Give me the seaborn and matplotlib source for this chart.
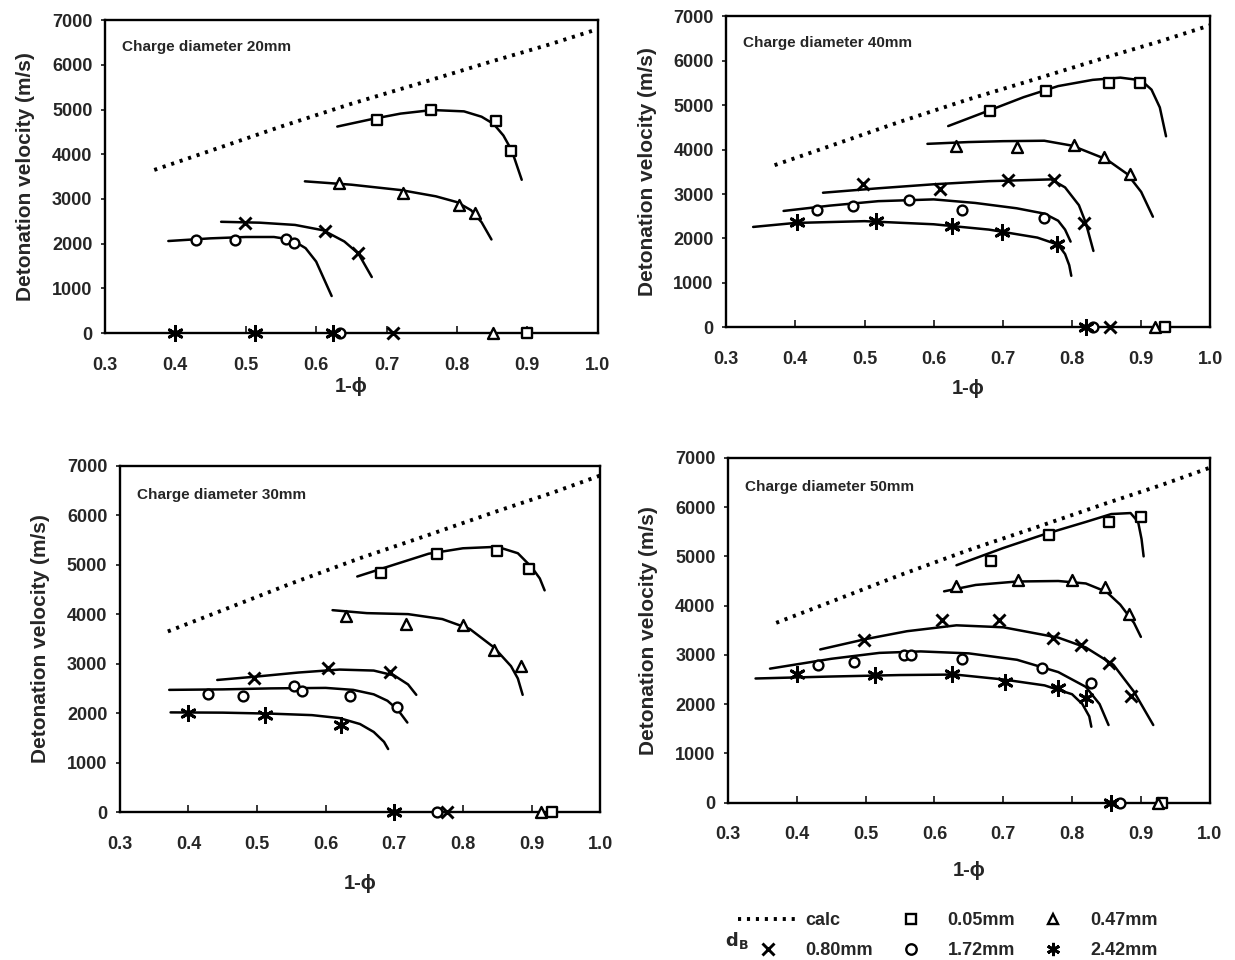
import matplotlib
matplotlib.use("Agg")
import matplotlib.pyplot as plt
import seaborn as sns
from matplotlib.lines import Line2D

sns.set_style("ticks")
plt.rcParams['font.family'] = ['Liberation Sans', 'DejaVu Sans']
plt.rcParams['font.weight'] = 'bold'

# ---------------- data ----------------
SERIES = ["0.05mm", "0.47mm", "0.80mm", "1.72mm", "2.42mm"]
X_TICKS = [0.3, 0.4, 0.5, 0.6, 0.7, 0.8, 0.9, 1.0]
Y_TICKS = [0, 1000, 2000, 3000, 4000, 5000, 6000, 7000]

CALC_X = [0.37, 0.45, 0.55, 0.65, 0.75, 0.85, 0.93, 1.0]
CALC_Y = [3650, 4080, 4620, 5130, 5600, 6080, 6450, 6800]

# Charge diameter 20 mm
pts20 = {
    "0.05mm": ([0.686, 0.763, 0.856, 0.877, 0.90], [4770, 4990, 4750, 4065, 0]),
    "0.47mm": ([0.632, 0.723, 0.803, 0.826, 0.851], [3360, 3135, 2875, 2690, 0]),
    "0.80mm": ([0.499, 0.612, 0.659, 0.709], [2465, 2280, 1800, 0]),
    "1.72mm": ([0.43, 0.485, 0.557, 0.568, 0.634], [2075, 2075, 2095, 2020, 0]),
    "2.42mm": ([0.40, 0.513, 0.624], [0, 0, 0]),
}
fit20 = {
    "0.05mm": ([0.63, 0.68, 0.72, 0.765, 0.81, 0.835, 0.852, 0.866, 0.878, 0.892],
               [4620, 4790, 4910, 4990, 4960, 4840, 4680, 4420, 4080, 3430]),
    "0.47mm": ([0.584, 0.65, 0.72, 0.77, 0.80, 0.82, 0.835, 0.849],
               [3395, 3320, 3200, 3060, 2930, 2750, 2480, 2095]),
    "0.80mm": ([0.465, 0.52, 0.57, 0.61, 0.64, 0.66, 0.679],
               [2490, 2470, 2420, 2300, 2050, 1780, 1255]),
    "1.72mm": ([0.39, 0.45, 0.50, 0.54, 0.565, 0.585, 0.60, 0.61, 0.622],
               [2060, 2120, 2150, 2150, 2090, 1900, 1600, 1250, 830]),
}

# Charge diameter 40 mm
pts40 = {
    "0.05mm": ([0.682, 0.763, 0.853, 0.899, 0.935], [4865, 5330, 5500, 5500, 0]),
    "0.47mm": ([0.632, 0.721, 0.803, 0.846, 0.884, 0.92], [4080, 4065, 4100, 3830, 3460, 0]),
    "0.80mm": ([0.498, 0.609, 0.708, 0.774, 0.817, 0.855], [3220, 3110, 3320, 3320, 2340, 0]),
    "1.72mm": ([0.431, 0.483, 0.565, 0.641, 0.759, 0.83], [2640, 2730, 2865, 2640, 2470, 0]),
    "2.42mm": ([0.403, 0.516, 0.627, 0.699, 0.779, 0.82], [2360, 2395, 2270, 2150, 1885, 0]),
}
fit40 = {
    "0.05mm": ([0.621, 0.68, 0.73, 0.78, 0.83, 0.87, 0.90, 0.915, 0.927, 0.936],
               [4530, 4880, 5180, 5430, 5570, 5620, 5560, 5350, 4950, 4300]),
    "0.47mm": ([0.591, 0.65, 0.70, 0.76, 0.80, 0.85, 0.88, 0.90, 0.917],
               [4130, 4170, 4190, 4200, 4090, 3780, 3450, 3050, 2490]),
    "0.80mm": ([0.44, 0.52, 0.60, 0.68, 0.77, 0.79, 0.81, 0.82, 0.831],
               [3030, 3130, 3220, 3290, 3330, 3150, 2750, 2350, 1720]),
    "1.72mm": ([0.383, 0.45, 0.52, 0.60, 0.66, 0.72, 0.76, 0.78, 0.79, 0.798],
               [2620, 2740, 2840, 2880, 2800, 2680, 2560, 2400, 2200, 1930]),
    "2.42mm": ([0.339, 0.40, 0.50, 0.60, 0.68, 0.75, 0.78, 0.79, 0.796, 0.799],
               [2260, 2350, 2390, 2320, 2200, 2020, 1860, 1650, 1400, 1160]),
}

# Charge diameter 30 mm
pts30 = {
    "0.05mm": ([0.681, 0.762, 0.85, 0.896, 0.93], [4830, 5220, 5275, 4920, 0]),
    "0.47mm": ([0.63, 0.717, 0.80, 0.845, 0.884, 0.913], [3960, 3810, 3790, 3275, 2950, 0]),
    "0.80mm": ([0.495, 0.604, 0.693, 0.777], [2705, 2905, 2840, 0]),
    "1.72mm": ([0.428, 0.48, 0.554, 0.565, 0.636, 0.704, 0.762], [2380, 2355, 2550, 2455, 2355, 2115, 0]),
    "2.42mm": ([0.40, 0.511, 0.623, 0.70], [2000, 1965, 1765, 0]),
}
fit30 = {
    "0.05mm": ([0.646, 0.70, 0.75, 0.80, 0.85, 0.88, 0.90, 0.912, 0.919],
               [4760, 5000, 5220, 5330, 5360, 5230, 4950, 4720, 4480]),
    "0.47mm": ([0.61, 0.66, 0.72, 0.77, 0.81, 0.845, 0.87, 0.88, 0.887],
               [4080, 4020, 4000, 3900, 3700, 3330, 2950, 2700, 2370]),
    "0.80mm": ([0.442, 0.50, 0.56, 0.62, 0.67, 0.70, 0.72, 0.732],
               [2670, 2740, 2820, 2880, 2860, 2760, 2580, 2370]),
    "1.72mm": ([0.372, 0.45, 0.52, 0.60, 0.64, 0.67, 0.69, 0.705, 0.719],
               [2470, 2480, 2500, 2510, 2470, 2380, 2250, 2070, 1810]),
    "2.42mm": ([0.374, 0.45, 0.52, 0.58, 0.62, 0.65, 0.67, 0.685, 0.691],
               [2015, 2010, 1990, 1960, 1900, 1780, 1620, 1420, 1275]),
}

# Charge diameter 50 mm
pts50 = {
    "0.05mm": ([0.682, 0.766, 0.854, 0.90, 0.93], [4905, 5425, 5695, 5800, 0]),
    "0.47mm": ([0.631, 0.722, 0.80, 0.848, 0.883, 0.925], [4400, 4530, 4515, 4380, 3840, 0]),
    "0.80mm": ([0.498, 0.611, 0.694, 0.773, 0.813, 0.854, 0.885], [3310, 3700, 3715, 3350, 3195, 2825, 2165]),
    "1.72mm": ([0.431, 0.483, 0.556, 0.566, 0.64, 0.757, 0.828, 0.87], [2790, 2860, 3000, 3000, 2925, 2735, 2420, 0]),
    "2.42mm": ([0.40, 0.513, 0.626, 0.702, 0.78, 0.82, 0.857], [2620, 2590, 2620, 2450, 2330, 2120, 0]),
}
fit50 = {
    "0.05mm": ([0.632, 0.70, 0.76, 0.82, 0.857, 0.885, 0.896, 0.901, 0.904],
               [4820, 5170, 5450, 5700, 5860, 5880, 5700, 5350, 5000]),
    "0.47mm": ([0.614, 0.66, 0.72, 0.78, 0.82, 0.85, 0.87, 0.89, 0.90],
               [4290, 4420, 4490, 4500, 4450, 4280, 4020, 3650, 3365]),
    "0.80mm": ([0.434, 0.50, 0.56, 0.632, 0.70, 0.78, 0.82, 0.86, 0.89, 0.918],
               [3110, 3320, 3480, 3600, 3560, 3350, 3150, 2800, 2250, 1575]),
    "1.72mm": ([0.361, 0.45, 0.52, 0.58, 0.65, 0.72, 0.78, 0.82, 0.84, 0.853],
               [2720, 2920, 3040, 3070, 3030, 2900, 2650, 2350, 2000, 1575]),
    "2.42mm": ([0.34, 0.45, 0.55, 0.63, 0.70, 0.76, 0.80, 0.815, 0.825, 0.828],
               [2520, 2560, 2590, 2600, 2500, 2380, 2200, 2000, 1750, 1540]),
}

PANELS = [
    ("Charge diameter 20mm", pts20, fit20, [0.085, 0.653, 0.399, 0.326], 2),
    ("Charge diameter 40mm", pts40, fit40, [0.588, 0.659, 0.392, 0.324], 8),
    ("Charge diameter 30mm", pts30, fit30, [0.097, 0.154, 0.389, 0.361], 15),
    ("Charge diameter 50mm", pts50, fit50, [0.5895, 0.164, 0.390, 0.359], 13),
]

# ---------------- styles ----------------
MARKERS = {"0.05mm": "s", "0.47mm": "^", "0.80mm": "x", "1.72mm": "o", "2.42mm": (6, 2, 0)}
SIZES = {"0.05mm": 62, "0.47mm": 62, "0.80mm": 75, "1.72mm": 50, "2.42mm": 105}
FILLED = {"0.05mm": True, "0.47mm": True, "0.80mm": False, "1.72mm": True, "2.42mm": False}
CALC_STYLE = (0, (0.8, 1.5))

fig = plt.figure(figsize=(12.35, 9.6), dpi=100)

for title, pts, fits, rect, xlpad in PANELS:
    ax = fig.add_axes(rect)
    sns.lineplot(x=CALC_X, y=CALC_Y, ax=ax, color="black", lw=2.8,
                 linestyle=CALC_STYLE, sort=False, estimator=None)
    for name, (fx, fy) in fits.items():
        sns.lineplot(x=fx, y=fy, ax=ax, color="black", lw=1.8, sort=False, estimator=None)
    for name, (px, py) in pts.items():
        if FILLED[name]:
            sns.scatterplot(x=px, y=py, ax=ax, marker=MARKERS[name], s=SIZES[name],
                            facecolor="white", edgecolor="black", linewidth=1.7,
                            zorder=5, clip_on=False)
        else:
            sns.scatterplot(x=px, y=py, ax=ax, marker=MARKERS[name], s=SIZES[name],
                            color="black", edgecolor=None, linewidth=2.1,
                            zorder=5, clip_on=False)
    ax.set_xlim(0.3, 1.0)
    ax.set_ylim(0, 7000)
    ax.set_xticks(X_TICKS)
    ax.set_xticklabels([f"{v:.1f}" for v in X_TICKS])
    ax.set_yticks(Y_TICKS)
    ax.set_yticklabels([str(v) for v in Y_TICKS])
    ax.tick_params(axis="x", direction="in", length=5, width=1.3, labelsize=13, pad=17)
    ax.tick_params(axis="y", direction="out", length=3, width=1.3, labelsize=13, pad=6)
    for lab in ax.get_xticklabels() + ax.get_yticklabels():
        lab.set_fontweight("bold")
    for sp in ax.spines.values():
        sp.set_linewidth(1.7)
        sp.set_color("black")
    ax.set_xlabel("1-ϕ", fontsize=14.5, fontweight="bold", labelpad=xlpad)
    ax.set_ylabel("Detonation velocity (m/s)", fontsize=15, fontweight="bold", labelpad=12)
    ax.text(0.035, 0.915, title, transform=ax.transAxes, fontsize=11, fontweight="bold",
            va="center", ha="left")

# ---------------- legend ----------------
h_calc = Line2D([], [], color="black", lw=2.8, linestyle=CALC_STYLE)
def mk(name):
    if FILLED[name]:
        return Line2D([], [], linestyle="", marker=MARKERS[name], markersize=7.5,
                      markerfacecolor="white", markeredgecolor="black", markeredgewidth=1.7)
    return Line2D([], [], linestyle="", marker=MARKERS[name],
                  markersize=8 if name == "0.80mm" else 9.5,
                  color="black", markeredgewidth=2.1)

handles = [h_calc, mk("0.80mm"), mk("0.05mm"), mk("1.72mm"), mk("0.47mm"), mk("2.42mm")]
labels = ["calc", "0.80mm", "0.05mm", "1.72mm", "0.47mm", "2.42mm"]
fig.legend(handles, labels, loc="upper left", bbox_to_anchor=(0.592, 0.0575), ncol=3,
           frameon=False, handlelength=3.3, handletextpad=0.4, columnspacing=0.45,
           labelspacing=0.72, prop={"weight": "bold", "size": 13}, borderaxespad=0)
fig.text(0.587, 0.02, r"$\mathbf{d_{B}}$", fontsize=13, ha="left", va="center")

fig.savefig("out.png", dpi=100)
